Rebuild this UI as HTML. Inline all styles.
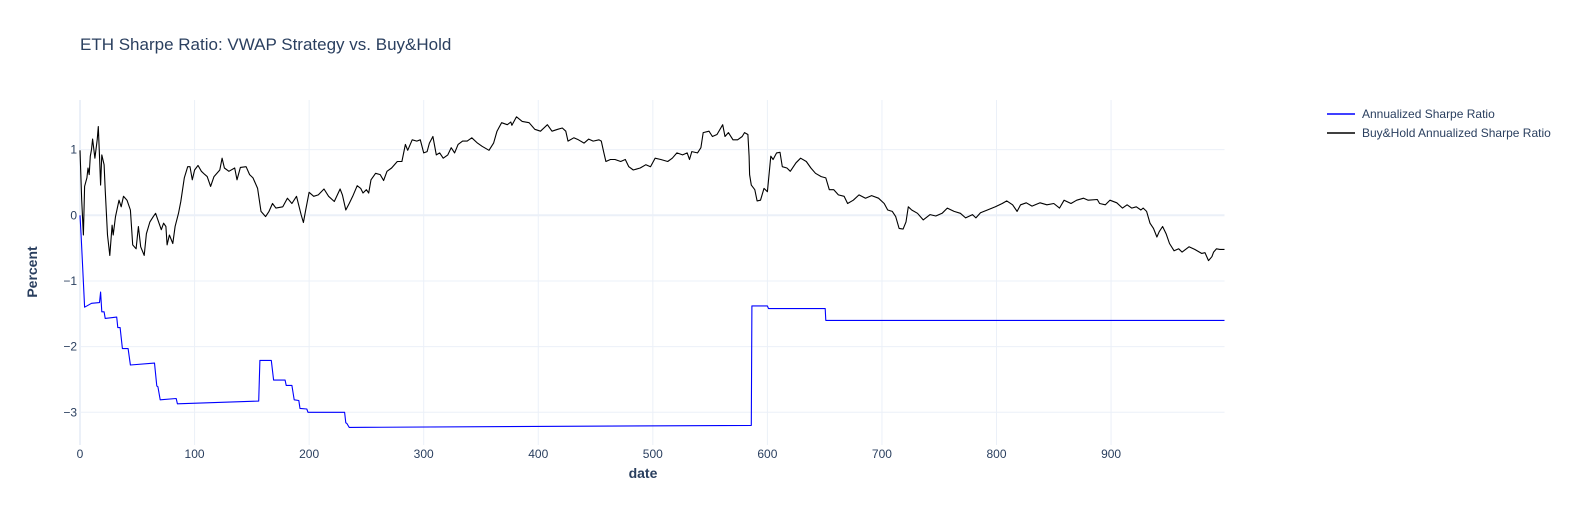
<!DOCTYPE html>
<html><head><meta charset="utf-8">
<style>
html,body{margin:0;padding:0;background:#fff;}
svg{display:block;font-family:"Liberation Sans",Arial,sans-serif;}
</style></head>
<body>
<svg id="chart" width="1589" height="525" viewBox="0 0 1589 525" xmlns="http://www.w3.org/2000/svg">
<rect x="0" y="0" width="1589" height="525" fill="#fff"/>
<text x="80" y="50" font-size="17" fill="#2a3f5f">ETH Sharpe Ratio: VWAP Strategy vs. Buy&amp;Hold</text>
<g id="grid"></g>
<g id="ticks"></g>
<g id="series"></g>
<text x="643" y="478" font-size="14" font-weight="bold" fill="#2a3f5f" text-anchor="middle">date</text>
<text x="0" y="0" font-size="14" font-weight="bold" fill="#2a3f5f" text-anchor="middle" transform="translate(37,272) rotate(-90)">Percent</text>
<g>
  <g>
    <line x1="1327" y1="114" x2="1355" y2="114" stroke="#0000ff" stroke-width="1.5"/>
    <text x="1362" y="118" font-size="12" fill="#2a3f5f">Annualized Sharpe Ratio</text>
  </g>
  <g>
    <line x1="1327" y1="133" x2="1355" y2="133" stroke="#000" stroke-width="1.5"/>
    <text x="1362" y="137" font-size="12" fill="#2a3f5f">Buy&amp;Hold Annualized Sharpe Ratio</text>
  </g>
</g>
</svg>
<script>
const xTicks = [0,100,200,300,400,500,600,700,800,900];
const yTicks = [1,0,-1,-2,-3];
const stratX = [0,1,4,7,10,17,18,19,21,22,32,33,35,37,42,44,65,67,68,70,84,85,156,157,167,169,179,180,185,187,191,192,198,199,231,232,233,235,586,586.5,600,601,650.5,651,999];
const stratY = [0,-0.3,-1.40,-1.37,-1.34,-1.33,-1.17,-1.47,-1.47,-1.57,-1.55,-1.71,-1.71,-2.03,-2.03,-2.28,-2.25,-2.60,-2.61,-2.81,-2.79,-2.87,-2.83,-2.21,-2.21,-2.51,-2.51,-2.59,-2.59,-2.81,-2.82,-2.94,-2.95,-3.0,-3.0,-3.16,-3.17,-3.23,-3.20,-1.38,-1.38,-1.42,-1.42,-1.60,-1.60];
const bhX = [0,1.5,3,4,6,7,8,9,10,11,13,15,16,17,18,19,21,22,24,26,28,29,31,34,36,38,41,44,46,49,51,53,56,58,61,64,66,68,71,73,75,76,78,81,83,86,88,91,94,96,98,100,103,106,109,111,114,117,122,124,126,130,135,137,140,145,148,151,155,158,162,165,168,171,177,181,185,189,193,195,197,200,204,208,213,217,222,227,229,232,235,238,242,245,247,250,252,254,258,262,265,268,272,277,281,284,286,290,294,297,300,303,305,308,311,314,317,321,324,327,330,334,338,342,347,351,357,361,364,368,373,376,377,381,386,392,397,402,408,412,417,421,424,426,431,435,440,444,448,453,455,457,459,463,467,472,476,479,483,489,494,498,502,507,513,517,521,526,530,532,534,539,542,544,549,552,556,561,563,566,570,574,578,580,583,584,584.5,586,589,591,594,597,600,603,605,608,611,613,617,620,625,629,634,638,642,647,651,654,658,662,667,670,675,680,685.6,691,697,702,705,709,712,715,718.5,721,723,726,731,736,742,747,752.5,757,763,768.5,773,779,782,786,792,799,805,809,814,818,821,826,831,838,844,850,855,859,865,870,876,880,888,890,895,899,905,910,914,918,922,926,928,931,934,937,940,942,945,948,951,955,959,962,968,973,979,982,985,988,989.5,992,995,999];
const bhY = [0.99,0.23,-0.30,0.44,0.57,0.72,0.62,0.90,1.0,1.16,0.87,1.15,1.35,0.90,0.46,0.92,0.77,0.39,-0.30,-0.61,-0.15,-0.30,-0.02,0.23,0.13,0.29,0.23,0.08,-0.45,-0.51,-0.17,-0.48,-0.61,-0.28,-0.10,-0.02,0.03,-0.07,-0.22,-0.12,-0.17,-0.45,-0.30,-0.43,-0.17,0.03,0.21,0.57,0.74,0.74,0.54,0.69,0.76,0.67,0.62,0.59,0.44,0.59,0.69,0.87,0.72,0.67,0.72,0.54,0.73,0.74,0.62,0.57,0.41,0.06,-0.02,0.06,0.18,0.11,0.13,0.26,0.18,0.29,0.01,-0.11,0.08,0.35,0.29,0.31,0.40,0.29,0.21,0.40,0.31,0.08,0.18,0.29,0.45,0.41,0.34,0.39,0.34,0.54,0.64,0.62,0.53,0.67,0.72,0.82,0.82,1.08,0.99,1.15,1.13,1.15,0.95,0.97,1.10,1.20,0.92,0.95,0.87,0.92,1.03,0.95,1.08,1.13,1.13,1.18,1.10,1.05,0.99,1.10,1.28,1.41,1.38,1.42,1.37,1.50,1.43,1.41,1.31,1.28,1.38,1.28,1.31,1.33,1.28,1.13,1.18,1.15,1.10,1.16,1.13,1.15,1.13,0.97,0.82,0.85,0.85,0.82,0.85,0.74,0.69,0.72,0.77,0.74,0.87,0.85,0.82,0.87,0.95,0.92,0.95,0.85,0.97,0.95,1.03,1.26,1.28,1.20,1.23,1.38,1.20,1.26,1.15,1.15,1.20,1.26,1.23,0.90,0.62,0.46,0.39,0.22,0.23,0.41,0.36,0.90,0.85,0.95,0.96,0.74,0.72,0.67,0.80,0.87,0.82,0.72,0.64,0.59,0.57,0.39,0.39,0.31,0.29,0.18,0.23,0.31,0.26,0.30,0.26,0.18,0.08,0.06,-0.02,-0.20,-0.21,-0.10,0.13,0.08,0.03,-0.07,0.01,-0.01,0.03,0.11,0.06,0.03,-0.04,0.01,-0.04,0.04,0.08,0.13,0.18,0.22,0.16,0.06,0.16,0.19,0.14,0.19,0.16,0.18,0.11,0.23,0.18,0.23,0.26,0.23,0.24,0.18,0.16,0.23,0.19,0.11,0.16,0.11,0.13,0.08,0.11,0.06,-0.12,-0.20,-0.33,-0.25,-0.17,-0.28,-0.43,-0.54,-0.51,-0.56,-0.48,-0.52,-0.58,-0.57,-0.69,-0.63,-0.56,-0.51,-0.52,-0.52];

const NS = "http://www.w3.org/2000/svg";
const X0 = 80, X1 = 1224.5, XMIN = 0, XMAX = 999;
const YZERO = 215.3, YUNIT = 65.67, PT = 100, PB = 445;
function sx(v){ return X0 + (v - XMIN) / (XMAX - XMIN) * (X1 - X0); }
function sy(v){ return YZERO - v * YUNIT; }
function mk(tag, attrs, parent){
  const el = document.createElementNS(NS, tag);
  for (const k in attrs) el.setAttribute(k, attrs[k]);
  parent.appendChild(el);
  return el;
}
const grid = document.getElementById('grid');
const ticks = document.getElementById('ticks');
const series = document.getElementById('series');

xTicks.forEach(t => {
  const x = sx(t);
  const g = mk('line', {x1:x, y1:PT, x2:x, y2:PB, stroke:'#EBF0F8', 'stroke-width': t===0 ? 2 : 1}, grid);
  
  
  const l = mk('text', {x:x, y:458, 'font-size':12, fill:'#2a3f5f', 'text-anchor':'middle'}, ticks);
  l.textContent = String(t);
  
  
});
yTicks.forEach(t => {
  const y = sy(t);
  const g = mk('line', {x1:X0, y1:y, x2:X1, y2:y, stroke:'#EBF0F8', 'stroke-width': t===0 ? 2 : 1}, grid);
  
  
  const l = mk('text', {x:77, y:y+4, 'font-size':12, fill:'#2a3f5f', 'text-anchor':'end'}, ticks);
  l.textContent = t < 0 ? '\u2212' + Math.abs(t) : String(t);
  
  
});
function path(xs, ys){
  return xs.map((v,i) => (i ? 'L' : 'M') + sx(v).toFixed(1) + ',' + sy(ys[i]).toFixed(1)).join(' ');
}
const bh = mk('path', {d: path(bhX, bhY), fill:'none', stroke:'#000', 'stroke-width':1.1, 'stroke-linejoin':'round'}, series);


const st = mk('path', {d: path(stratX, stratY), fill:'none', stroke:'#0000ff', 'stroke-width':1.1, 'stroke-linejoin':'round'}, series);


</script>
</body></html>
